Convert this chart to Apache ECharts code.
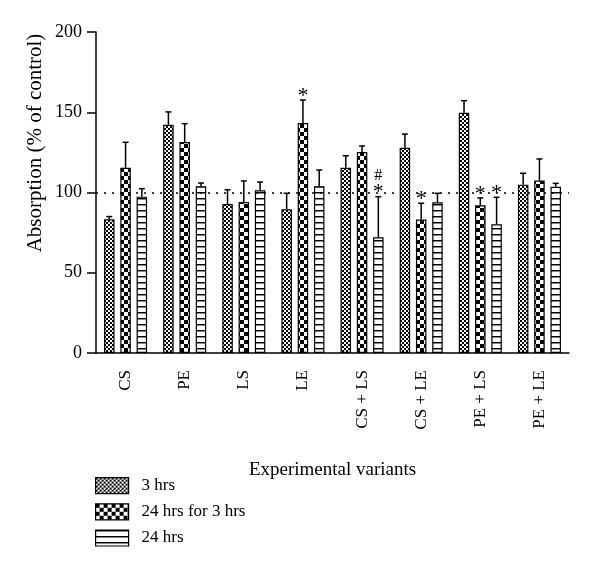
<!DOCTYPE html>
<html><head><meta charset="utf-8">
<script src="https://cdn.jsdelivr.net/npm/echarts@6/dist/echarts.min.js"></script>
<style>html,body{margin:0;padding:0;background:#fff}#c{width:600px;height:568px}</style>
</head><body><div id="c"></div>
<script>
// ---------- data ----------
const categories = ['CS', 'PE', 'LS', 'LE', 'CS + LS', 'CS + LE', 'PE + LS', 'PE + LE'];
const seriesNames = ['3 hrs', '24 hrs for 3 hrs', '24 hrs'];
const values3h    = [83.3, 142.2, 92.8, 89.5, 115.4, 127.9, 149.7, 104.9];
const values24f3  = [115.4, 131.5, 94.1, 143.3, 125.2, 83.1, 92.0, 107.4];
const values24h   = [97.4, 103.9, 101.4, 103.9, 72.1, 93.9, 80.2, 103.6];
const err3h       = [1.7, 8.0, 8.9, 10.0, 7.5, 8.5, 7.5, 7.1];
const err24f3     = [15.9, 11.4, 13.1, 14.3, 3.8, 10.2, 4.6, 13.5];
const err24h      = [5.0, 2.0, 5.1, 10.1, 25.3, 5.6, 16.8, 2.1];
const sig3h       = ['', '', '', '', '', '', '', ''];
const sig24f3     = ['', '', '', '*', '', '*', '*', ''];
const sig24h      = ['', '', '', '', '#*', '', '*', ''];
const yTicks      = [0, 50, 100, 150, 200];
const controlLevel = 100;

// ---------- patterns ----------
function makePattern(w, h, draw) {
  const c = document.createElement('canvas');
  c.width = w; c.height = h;
  const ctx = c.getContext('2d');
  ctx.fillStyle = '#fff'; ctx.fillRect(0, 0, w, h);
  draw(ctx);
  return { image: c, repeat: 'repeat' };
}
const patFine = makePattern(4, 4, ctx => { ctx.fillStyle = '#000'; ctx.fillRect(0,0,2,2); ctx.fillRect(2,2,2,2); });
const patBig = makePattern(8, 8, ctx => { ctx.fillStyle = '#000'; ctx.fillRect(0,0,4,4); ctx.fillRect(4,4,4,4); });
const patLines = makePattern(4, 6, ctx => { ctx.fillStyle = '#000'; ctx.fillRect(0,0,4,1); ctx.fillStyle = '#888'; ctx.fillRect(0,1,4,1); });
const patterns = [patFine, patBig, patLines];

const FONT = 'Liberation Serif';
const BAR_W = 10.5, BAR_GAP = 0.55;
const STEP = BAR_W * (1 + BAR_GAP);

const vals = [values3h, values24f3, values24h];
const errs = [err3h, err24f3, err24h];
const sigs = [sig3h, sig24f3, sig24h];

const series = [];
vals.forEach((v, s) => {
  const bar = {
    name: seriesNames[s], type: 'bar', data: v,
    barWidth: BAR_W, barGap: (BAR_GAP * 100) + '%',
    itemStyle: { color: patterns[s], borderColor: '#000', borderWidth: 1.2 },
    emphasis: { disabled: true }, z: 2
  };
  if (s === 0) {
    bar.markLine = {
      silent: true, symbol: 'none', label: { show: false },
      lineStyle: { color: '#000', type: [2, 6], width: 1.5 },
      data: [{ yAxis: controlLevel }]
    };
  }
  series.push(bar);
});
errs.forEach((e, s) => {
  series.push({
    name: 'err' + s, type: 'custom', z: 3,
    data: e.map((d, i) => [i, vals[s][i], vals[s][i] + d]),
    renderItem: (params, api) => {
      const i = params.dataIndex;
      const pBar = api.coord([api.value(0), api.value(1)]);
      const pTop = api.coord([api.value(0), api.value(2)]);
      const cx = pBar[0] + (s - 1) * STEP;
      const st = { stroke: '#000', lineWidth: 1.5 };
      const children = [
        { type: 'line', shape: { x1: cx, y1: pBar[1], x2: cx, y2: pTop[1] }, style: st },
        { type: 'line', shape: { x1: cx - 3, y1: pTop[1], x2: cx + 3, y2: pTop[1] }, style: st }
      ];
      const lab = sigs[s][i];
      if (lab.indexOf('*') >= 0) {
        children.push({ type: 'text', x: cx, y: pTop[1] - 4,
          style: { text: '*', font: '22px "' + FONT + '"', fill: '#000', align: 'center', verticalAlign: 'middle' } });
      }
      if (lab.indexOf('#') >= 0) {
        children.push({ type: 'text', x: cx, y: pTop[1] - 21,
          style: { text: '#', font: '16px "' + FONT + '"', fill: '#000', align: 'center', verticalAlign: 'middle' } });
      }
      return { type: 'group', children };
    }
  });
});

const chart = echarts.init(document.getElementById('c'));
chart.setOption({
  animation: false,
  backgroundColor: '#fff',
  textStyle: { fontFamily: FONT },
  grid: { left: 96, right: 31, top: 32, bottom: 215, containLabel: false },
  legend: {
    data: seriesNames, orient: 'vertical', left: 95, top: 477, padding: 0,
    itemWidth: 33, itemHeight: 16, itemGap: 9, icon: 'rect',
    selectedMode: false,
    itemStyle: { borderColor: '#000', borderWidth: 1.2 },
    textStyle: { fontFamily: FONT, fontSize: 17, color: '#000', padding: [0, 0, 0, 8] }
  },
  xAxis: {
    type: 'category', data: categories,
    name: 'Experimental variants', nameLocation: 'middle', nameGap: 108,
    nameTextStyle: { fontFamily: FONT, fontSize: 19, color: '#000' },
    axisLine: { lineStyle: { color: '#000', width: 1.5 } },
    axisTick: { alignWithLabel: true, length: 7, lineStyle: { color: '#000', width: 1.5 } },
    axisLabel: { rotate: 90, margin: 17, fontFamily: FONT, fontSize: 17, color: '#000', interval: 0 }
  },
  yAxis: {
    type: 'value', min: yTicks[0], max: yTicks[yTicks.length - 1], interval: yTicks[1] - yTicks[0],
    splitLine: { show: false },
    axisLine: { show: true, lineStyle: { color: '#000', width: 1.5 } },
    axisTick: { show: true, length: 9, lineStyle: { color: '#000', width: 1.5 } },
    axisLabel: { margin: 14, fontFamily: FONT, fontSize: 18, color: '#000' }
  },
  graphic: [{
    type: 'text', x: 35, y: 143, rotation: Math.PI / 2,
    style: { text: 'Absorption (% of control)', font: '21px "' + FONT + '"', fill: '#000', align: 'center', verticalAlign: 'middle' }
  }],
  series
});
</script></body></html>
